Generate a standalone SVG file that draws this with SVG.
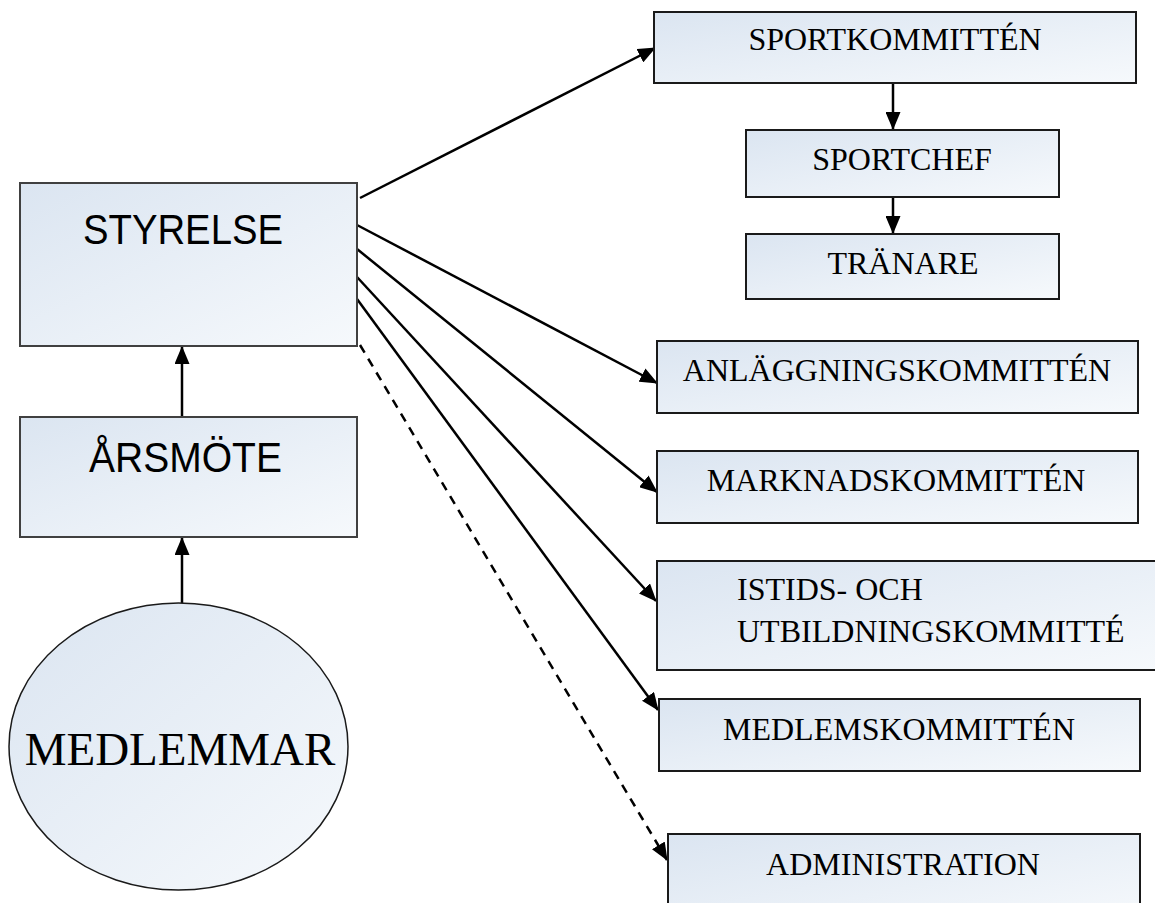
<svg xmlns="http://www.w3.org/2000/svg" width="1155" height="903" viewBox="0 0 1155 903">
<style>
.box{fill:url(#g);stroke:#1a1a1a;stroke-width:2}
.lbox{fill:url(#g);stroke:#404040;stroke-width:2}
.serif{font-family:"Liberation Serif","Times New Roman",serif;font-size:32px;fill:#000}
.big{font-size:47px}
.sans{font-family:"Liberation Sans",Arial,sans-serif;font-size:43px;fill:#000}
.c{stroke:#000;stroke-width:2.5;fill:none;marker-end:url(#ah)}
.d{stroke-dasharray:9 7}
</style>
<defs>
<linearGradient id="g" x1="0" y1="0" x2="1" y2="1">
<stop offset="0" stop-color="#dbe5f1"/>
<stop offset="1" stop-color="#f6f9fc"/>
</linearGradient>
<marker id="ah" viewBox="0 0 18 15" refX="17" refY="7.5" markerWidth="18" markerHeight="15" markerUnits="userSpaceOnUse" orient="auto">
<path d="M0,0 L18,7.5 L0,15 Z" fill="#000"/>
</marker>
</defs>
<rect width="1155" height="903" fill="#fff"/>

<g id="connectors">
<line class="c" x1="182" y1="417" x2="182" y2="347"/>
<line class="c" x1="182" y1="603" x2="182" y2="538"/>
<line class="c" x1="893" y1="84" x2="893" y2="129"/>
<line class="c" x1="893" y1="198" x2="893" y2="233"/>
<line class="c" x1="360" y1="198" x2="655" y2="48"/>
<line class="c" x1="357" y1="225" x2="657" y2="383"/>
<line class="c" x1="357" y1="249" x2="657" y2="492"/>
<line class="c" x1="357" y1="277" x2="656" y2="601"/>
<line class="c" x1="357" y1="299" x2="658" y2="710"/>
<line class="c d" x1="360" y1="345" x2="667" y2="860"/>
</g>

<g id="styrelse">
<rect class="lbox" x="20" y="183" width="337" height="163"/>
<text class="sans" x="183" y="244" text-anchor="middle" textLength="200" lengthAdjust="spacingAndGlyphs">STYRELSE</text>
</g>
<g id="arsmote">
<rect class="lbox" x="20" y="417" width="337" height="120"/>
<text class="sans" x="185.5" y="472" text-anchor="middle" textLength="193" lengthAdjust="spacingAndGlyphs">ÅRSMÖTE</text>
</g>
<g id="medlemmar">
<ellipse class="box" cx="178.5" cy="746.5" rx="169.5" ry="143.5" style="stroke-width:1.5"/>
<text class="serif big" x="180" y="765" text-anchor="middle">MEDLEMMAR</text>
</g>

<g id="sportkommitten">
<rect class="box" x="654" y="12" width="482" height="71"/>
<text class="serif" x="895" y="50" text-anchor="middle">SPORTKOMMITTÉN</text>
</g>
<g id="sportchef">
<rect class="box" x="746" y="130" width="313" height="67"/>
<text class="serif" x="902" y="170" text-anchor="middle">SPORTCHEF</text>
</g>
<g id="tranare">
<rect class="box" x="746" y="234" width="313" height="65"/>
<text class="serif" x="903" y="274" text-anchor="middle">TRÄNARE</text>
</g>
<g id="anlaggning">
<rect class="box" x="657" y="341" width="481" height="72"/>
<text class="serif" x="897" y="381" text-anchor="middle">ANLÄGGNINGSKOMMITTÉN</text>
</g>
<g id="marknad">
<rect class="box" x="657" y="451" width="481" height="72"/>
<text class="serif" x="896" y="491" text-anchor="middle">MARKNADSKOMMITTÉN</text>
</g>
<g id="istids">
<rect class="box" x="657" y="561" width="500" height="109"/>
<text class="serif" x="737" y="600">ISTIDS- OCH</text>
<text class="serif" x="737" y="642">UTBILDNINGSKOMMITTÉ</text>
</g>
<g id="medlemskommitten">
<rect class="box" x="659" y="699" width="481" height="72"/>
<text class="serif" x="899" y="740" text-anchor="middle">MEDLEMSKOMMITTÉN</text>
</g>
<g id="administration">
<rect class="box" x="668" y="834" width="472" height="90"/>
<text class="serif" x="903" y="875" text-anchor="middle">ADMINISTRATION</text>
</g>
</svg>
